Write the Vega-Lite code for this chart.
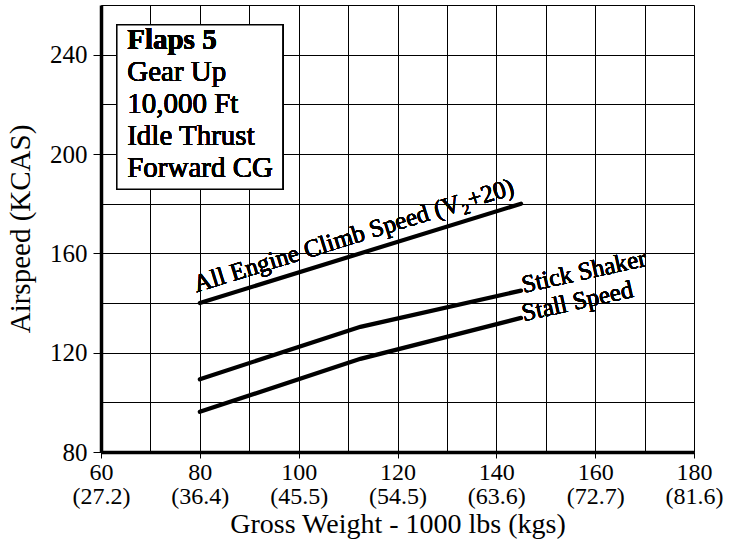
{
  "$schema": "https://vega.github.io/schema/vega-lite/v6.json",
  "width": 593,
  "height": 447,
  "autosize": {"type": "none"},
  "padding": {"left": 101, "top": 5, "right": 37, "bottom": 89},
  "background": "white",
  "config": {
    "font": "Liberation Serif",
    "view": {"stroke": null},
    "axis": {
      "labelFont": "Liberation Serif",
      "titleFont": "Liberation Serif",
      "labelColor": "black",
      "titleColor": "black",
      "titleFontWeight": "normal",
      "domainColor": "black",
      "domainWidth": 3.5,
      "tickColor": "black",
      "tickWidth": 1,
      "gridColor": "black",
      "gridWidth": 1,
      "gridOpacity": 1,
      "labelOverlap": false,
      "labelFlush": false
    }
  },
  "data": {
    "values": [
      {"series": "All Engine Climb Speed", "weight": 80, "kcas": 140},
      {"series": "All Engine Climb Speed", "weight": 145, "kcas": 180},
      {"series": "Stick Shaker", "weight": 80, "kcas": 109.3},
      {"series": "Stick Shaker", "weight": 112.5, "kcas": 130.4},
      {"series": "Stick Shaker", "weight": 145, "kcas": 145},
      {"series": "Stall Speed", "weight": 80, "kcas": 96.2},
      {"series": "Stall Speed", "weight": 112.5, "kcas": 117.5},
      {"series": "Stall Speed", "weight": 145, "kcas": 134}
    ]
  },
  "layer": [
    {
      "mark": {"type": "line", "color": "black", "strokeWidth": 4.2, "strokeCap": "round"},
      "encoding": {
        "x": {
          "field": "weight",
          "type": "quantitative",
          "title": "Gross Weight - 1000 lbs (kgs)",
          "scale": {"domain": [60, 180], "nice": false, "zero": false},
          "axis": {
            "titleFontSize": 28,
            "titlePadding": 2,
            "values": [60, 70, 80, 90, 100, 110, 120, 130, 140, 150, 160, 170, 180],
            "grid": true,
            "tickSize": 6,
            "tickOpacity": {"condition": {"test": "datum.value % 20 === 0", "value": 1}, "value": 0},
            "labelFontSize": 24,
            "labelLineHeight": 24,
            "labelPadding": 2,
            "labelExpr": "datum.value % 20 === 0 ? [datum.label, datum.value === 60 ? '(27.2)' : datum.value === 80 ? '(36.4)' : datum.value === 100 ? '(45.5)' : datum.value === 120 ? '(54.5)' : datum.value === 140 ? '(63.6)' : datum.value === 160 ? '(72.7)' : '(81.6)'] : ''"
          }
        },
        "y": {
          "field": "kcas",
          "type": "quantitative",
          "title": "Airspeed (KCAS)",
          "scale": {"domain": [80, 260], "nice": false, "zero": false},
          "axis": {
            "titleFontSize": 29,
            "titlePadding": 14,
            "values": [80, 100, 120, 140, 160, 180, 200, 220, 240, 260],
            "grid": true,
            "tickSize": 8,
            "tickOpacity": {"condition": {"test": "datum.value % 40 === 0", "value": 1}, "value": 0},
            "labelFontSize": 25,
            "labelPadding": 6,
            "labelExpr": "datum.value % 40 === 0 ? datum.label : ''"
          }
        },
        "detail": {"field": "series"}
      }
    },
    {
      "mark": {"type": "rect", "fill": "white", "stroke": "black", "strokeWidth": 1.5},
      "encoding": {
        "x": {"datum": 63.2},
        "x2": {"datum": 96.8},
        "y": {"datum": 252},
        "y2": {"datum": 185.8}
      }
    },
    {
      "mark": {"type": "text", "text": "Flaps 5", "font": "Liberation Serif", "fontSize": 29, "fontWeight": "bold", "align": "left", "baseline": "alphabetic", "color": "black"},
      "encoding": {
        "x": {"datum": 65.3},
        "y": {"datum": 242.4}
      }
    },
    {
      "mark": {"type": "text", "text": ["Gear Up", "10,000 Ft", "Idle Thrust", "Forward CG"], "font": "Liberation Serif", "fontSize": 29, "lineHeight": 32, "align": "left", "baseline": "alphabetic", "color": "black"},
      "encoding": {
        "x": {"datum": 65.3},
        "y": {"datum": 229.2}
      }
    },
    {
      "mark": {"type": "text", "text": "All Engine Climb Speed (V₂+20)", "font": "Liberation Serif", "fontSize": 25, "angle": -17.2, "align": "left", "baseline": "alphabetic", "dy": -11, "color": "black"},
      "encoding": {
        "x": {"datum": 80},
        "y": {"datum": 140}
      }
    },
    {
      "mark": {"type": "text", "text": "Stick Shaker", "font": "Liberation Serif", "fontSize": 25, "angle": -12.5, "align": "left", "baseline": "alphabetic", "dx": 2, "dy": 3, "color": "black"},
      "encoding": {
        "x": {"datum": 145},
        "y": {"datum": 145}
      }
    },
    {
      "mark": {"type": "text", "text": "Stall Speed", "font": "Liberation Serif", "fontSize": 25, "angle": -12.5, "align": "left", "baseline": "alphabetic", "dx": 2, "dy": 4, "color": "black"},
      "encoding": {
        "x": {"datum": 145},
        "y": {"datum": 134}
      }
    }
  ]
}
